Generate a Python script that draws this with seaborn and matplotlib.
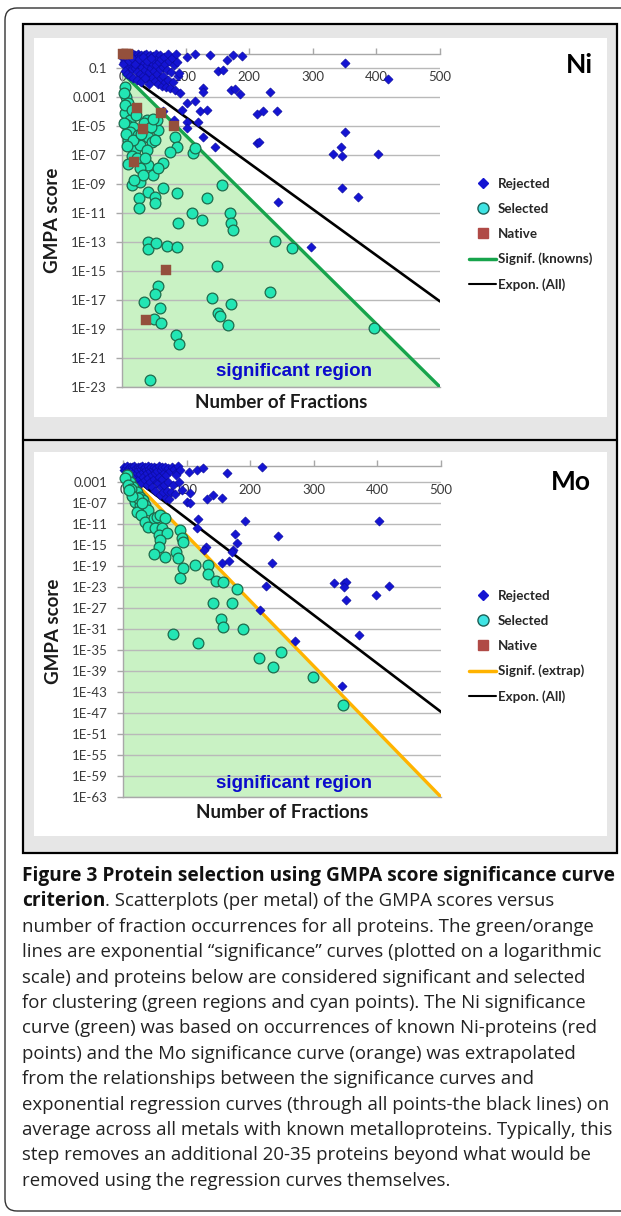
import matplotlib
matplotlib.use("Agg")
import matplotlib.pyplot as plt
import matplotlib.ticker as mticker
from matplotlib.patches import FancyBboxPatch, Rectangle
from matplotlib.lines import Line2D
import seaborn as sns

# ---------------- data ----------------
frac_ticks = [0, 100, 200, 300, 400, 500]
frac_labels = ["0", "100", "200", "300", "400", "500"]

ni_yticks = [1e-23, 1e-21, 1e-19, 1e-17, 1e-15, 1e-13, 1e-11, 1e-09, 1e-07, 1e-05, 1e-03, 1e-01]
ni_ylabels = ["1E-23", "1E-21", "1E-19", "1E-17", "1E-15", "1E-13", "1E-11", "1E-09", "1E-07", "1E-05", "0.001", "0.1"]
mo_yticks = [1e-63, 1e-59, 1e-55, 1e-51, 1e-47, 1e-43, 1e-39, 1e-35, 1e-31, 1e-27, 1e-23, 1e-19, 1e-15, 1e-11, 1e-07, 1e-03]
mo_ylabels = ["1E-63", "1E-59", "1E-55", "1E-51", "1E-47", "1E-43", "1E-39", "1E-35", "1E-31", "1E-27", "1E-23", "1E-19", "1E-15", "1E-11", "1E-07", "0.001"]

# Ni: rejected proteins (fractions, GMPA score)
ni_rej_x = [1, 2, 3, 4, 5, 6, 7, 8, 9, 10, 11, 12, 13, 14, 15, 16, 17, 18, 19, 20,
            21, 22, 23, 24, 25, 26, 27, 28, 29, 30, 31, 32, 33, 34, 35, 36, 37, 38, 39, 40,
            41, 42, 43, 44, 45, 46, 47, 48, 49, 50, 51, 52, 53, 54, 55, 56, 57, 58, 59, 60,
            61, 62, 63, 64, 65, 66, 67, 68, 69, 70, 72, 73, 74, 75, 77, 78, 80, 82, 84, 85, 88,
            2, 4, 6, 8, 11, 13, 15, 18, 21, 24, 27, 30, 33, 36, 39, 42, 45,
            86, 102, 115, 90, 138, 165, 151, 159, 175, 188, 172, 178, 186, 233, 212, 222, 243, 212, 216, 128,
            128, 115, 102, 91, 94, 123, 133, 102, 120, 128, 146, 246, 297, 351, 419, 351, 344, 331, 346, 403,
            346, 371, 65, 81, 102]
ni_rej_y = [0.9, 0.5, 0.25, 0.8, 0.4, 0.15, 0.9, 0.3, 0.6, 0.12, 0.85, 0.35, 0.2, 0.7, 0.08, 0.45, 0.95, 0.25, 0.6, 0.1,
            0.8, 0.3, 0.05, 0.5, 0.9, 0.18, 0.65, 0.04, 0.35, 0.85, 0.12, 0.5, 0.03, 0.25, 0.75, 0.07, 0.4, 0.95, 0.15, 0.02,
            0.6, 0.3, 0.05, 0.85, 0.1, 0.45, 0.02, 0.2, 0.7, 0.06, 0.35, 0.012, 0.9, 0.15, 0.04, 0.5, 0.008, 0.25, 0.08, 0.8,
            0.02, 0.4, 0.006, 0.12, 0.03, 0.6, 0.01, 0.2, 0.005, 0.07, 0.9, 0.015, 0.3, 0.004, 0.05, 0.5, 0.01, 0.15, 0.003, 0.9, 0.03,
            0.2, 0.06, 0.6, 0.04, 0.3, 0.03, 0.5, 0.02, 0.2, 0.015, 0.4, 0.01, 0.6, 0.02, 0.3, 0.008, 0.5,
            0.28, 0.6, 0.95, 0.045, 0.8, 0.35, 0.063, 0.07, 0.8, 0.63, 0.0032, 0.0034, 0.0016, 0.0023, 6.8e-5, 1.1e-4, 1.1e-4, 6.3e-7, 8.3e-7, 0.004,
            0.0023, 5e-4, 4e-4, 0.0018, 1.2e-4, 1e-4, 1.25e-4, 2e-5, 2e-5, 1.8e-6, 3.7e-7, 5.5e-11, 4.3e-14, 0.23, 0.017, 3.9e-6, 3.7e-7, 1.26e-7, 8e-8, 1.26e-7,
            5.6e-10, 1.26e-10, 1e-4, 2.5e-5, 6.9e-6]

# Ni: selected proteins
ni_sel_x = [5, 7, 13, 5, 13, 8, 17, 10, 20, 28, 39, 41, 47, 39, 41, 57, 52, 55, 83, 86,
            75, 112, 115, 65, 28, 15, 28, 49, 65, 57, 86, 41, 52, 52, 26, 26, 88, 157, 133, 110,
            125, 170, 172, 175, 41, 41, 53, 70, 86, 150, 241, 268, 56, 52, 35, 59, 51, 62, 85, 90,
            44, 141, 172, 151, 154, 167, 232, 397,
            3, 10, 4, 16, 22, 3, 12, 25, 6, 18, 8, 15, 24, 10, 33, 19, 30, 34, 45, 48, 36]
ni_sel_y = [5e-3, 1e-3, 2.1e-4, 7.6e-5, 2.6e-5, 1.2e-5, 8e-6, 1.1e-6, 2.2e-7, 5e-7,
            2.6e-5, 1.8e-6, 8.3e-7, 2.2e-7, 2e-8, 5.2e-6, 1.1e-6, 2.6e-5, 1.8e-6, 3.7e-7,
            1.7e-7, 1.3e-7, 3e-7, 2.7e-8, 1.2e-8, 8.5e-10, 1.4e-9, 4.2e-9, 5e-10, 1.2e-8,
            2.3e-10, 3e-10, 1.35e-10, 4.7e-11, 1e-10, 2.1e-11, 2.2e-12, 8.5e-10, 1e-10, 9.5e-12,
            3.3e-12, 9.5e-12, 1.9e-12, 6.8e-13, 1.05e-13, 3.2e-14, 8e-14, 5.2e-14, 4.3e-14, 2.2e-15,
            1.2e-13, 3.6e-14, 9.3e-17, 2.5e-17, 6.9e-18, 2.7e-18, 4.9e-19, 2.5e-19, 3.9e-20, 9.3e-21,
            3e-23, 1.45e-17, 5e-18, 1.2e-18, 8e-19, 1.9e-19, 3.4e-17, 1.1e-19,
            2e-3, 4e-4, 3e-4, 1.2e-4, 6e-5, 1.5e-5, 4e-6, 2.5e-6, 3e-6, 1e-6,
            4e-7, 9e-8, 6e-8, 2.5e-8, 4e-9, 2e-9, 3e-6, 1.5e-5, 8e-6, 3e-5, 6e-8]

# Ni: native (known) Ni-proteins
ni_nat_x = [2, 6, 10, 24, 61, 82, 33, 19, 69, 37]
ni_nat_y = [1.0, 1.0, 1.0, 1.8e-4, 8.3e-5, 1e-5, 5.9e-6, 3.5e-8, 1.2e-15, 4.3e-19]

# Ni curves
ni_sig_x = [0, 500]
ni_sig_y = [0.05, 1e-23]
ni_exp_x = [0, 500]
ni_exp_y = [0.063, 8e-18]

# Mo: rejected proteins
mo_rej_x = [1, 2, 3, 4, 5, 6, 7, 8, 9, 10, 11, 12, 13, 14, 15, 16, 17, 18, 19, 20,
            21, 22, 23, 24, 25, 26, 27, 28, 29, 30, 31, 32, 33, 34, 35, 36, 37, 38, 39, 40,
            41, 42, 43, 44, 45, 46, 47, 48, 49, 50, 51, 52, 53, 54, 55, 56, 57, 58, 59, 60,
            61, 62, 63, 64, 65, 66, 67, 68, 69, 70, 71, 72, 74, 75, 77, 78, 80, 82, 84, 86, 88, 90,
            103, 116, 125, 83, 163, 219, 92, 105, 100, 105, 132, 142, 155, 118, 116, 192, 176, 173, 180, 171,
            244, 131, 127, 155, 167, 235, 225, 215, 270, 403, 332, 347, 351, 348, 419, 398, 351, 371, 345]
mo_rej_y = [0.8, 0.2, 0.15, 0.5, 0.06, 0.9, 0.1, 0.03, 0.4, 0.03, 0.7, 0.008, 0.15, 0.6, 0.008, 0.3, 0.9, 0.02, 0.1, 0.5,
            0.001, 0.05, 0.8, 0.2, 0.004, 0.6, 0.03, 0.3, 6e-4, 0.9, 0.08, 0.01, 0.4, 0.002, 0.7, 0.15, 3e-4, 0.05, 0.9, 0.006,
            0.3, 8e-4, 0.1, 0.6, 0.02, 1e-4, 0.3, 0.003, 0.8, 0.04, 2e-5, 0.5, 0.001, 0.1, 5e-4, 0.9, 0.01, 3e-6, 0.2, 1e-4,
            0.6, 0.003, 1e-5, 0.05, 3e-4, 0.8, 1e-6, 0.02, 2e-5, 0.4, 1e-3, 5e-7, 0.1, 1e-5, 0.8, 2e-4, 0.3, 5e-6, 0.05, 0.9, 1e-3, 0.2,
            0.083, 0.17, 0.36, 0.019, 0.04, 0.74, 2.7e-5, 6.3e-6, 1.6e-7, 8e-8, 4.6e-7, 3e-6, 6.9e-7, 6.9e-11, 1.35e-12, 3.3e-11, 1e-13, 1.26e-16, 2e-15, 5e-17,
            4.7e-14, 4.3e-16, 1e-16, 3.2e-19, 1e-18, 4e-19, 1.4e-23, 4e-28, 5e-34, 4e-11, 6.3e-23, 4.5e-23, 1e-22, 8e-24, 1.6e-23, 2.5e-25, 3.2e-26, 6.3e-33, 1.26e-42]

# Mo: selected proteins
mo_sel_x = [6, 11, 16, 21.5, 27, 32, 19, 27, 35, 40, 21.5, 29, 35, 48, 53, 58, 66, 40, 50, 61,
            56, 69, 58, 90, 92, 95, 56, 48, 66, 84, 87, 95, 90, 113, 134, 133, 147, 157, 180, 142,
            172, 154, 158, 188, 79, 118, 214, 236, 248, 298, 346, 3, 8, 13, 24, 14, 30, 10]
mo_sel_y = [0.019, 1e-3, 1.15e-4, 1.3e-5, 1.45e-6, 3.3e-7, 1.6e-7, 3.7e-8, 3.7e-8, 4.2e-9,
            2e-9, 4.7e-10, 2.5e-11, 1.07e-10, 2.2e-10, 4.7e-10, 1.07e-10, 2.8e-12, 1.35e-12, 1.35e-12,
            7.2e-14, 1.5e-13, 8e-15, 6.3e-13, 1.66e-14, 3.9e-15, 4.3e-16, 1.7e-17, 4e-18, 5e-17,
            2.5e-18, 3.2e-20, 4e-22, 1.4e-19, 1.4e-19, 2.5e-21, 1.26e-22, 8e-23, 3.2e-24, 1e-26,
            1e-26, 8e-30, 2.5e-31, 8e-32, 1e-32, 2e-34, 2.5e-37, 5e-39, 3.2e-36, 6.3e-41,
            3.2e-46, 5e-3, 2e-4, 5e-5, 1e-6, 2e-6, 1e-7, 3e-5]

# Mo: no native proteins plotted
mo_nat_x = []
mo_nat_y = []

# Mo curves
mo_sig_x = [0, 500]
mo_sig_y = [0.17, 1e-63]
mo_exp_x = [0, 500]
mo_exp_y = [0.17, 1.6e-47]

legend_ni = ["Rejected", "Selected", "Native", "Signif. (knowns)", "Expon. (All)"]
legend_mo = ["Rejected", "Selected", "Native", "Signif. (extrap)", "Expon. (All)"]

caption_lines = [
    "Figure 3 Protein selection using GMPA score significance curve",
    ". Scatterplots (per metal) of the GMPA scores versus",
    "number of fraction occurrences for all proteins. The green/orange",
    "lines are exponential \u201csignificance\u201d curves (plotted on a logarithmic",
    "scale) and proteins below are considered significant and selected",
    "for clustering (green regions and cyan points). The Ni significance",
    "curve (green) was based on occurrences of known Ni-proteins (red",
    "points) and the Mo significance curve (orange) was extrapolated",
    "from the relationships between the significance curves and",
    "exponential regression curves (through all points-the black lines) on",
    "average across all metals with known metalloproteins. Typically, this",
    "step removes an additional 20-35 proteins beyond what would be",
    "removed using the regression curves themselves.",
]

# ---------------- styling ----------------
BLUE = "#1414d2"
BLUE_EDGE = "#0a0a9a"
CYAN = "#22e6b4"
CYAN_EDGE = "#1d6b4c"
BROWN = "#94503c"
GREEN = "#17a44c"
ORANGE = "#ffb300"
FILL = "#c9f2c4"
TICKC = "#3a3a3a"
AXC = "#a8a8a8"

sns.set_theme(style="white")
plt.rcParams["font.family"] = ["Lato", "DejaVu Sans"]

W, H = 621, 1216
fig = plt.figure(figsize=(W / 100, H / 100), dpi=100)


def fx(px):
    return px / W


def fy(py):
    return 1 - py / H


def inch_rect(x0, y0, x1, y1, **kw):
    return Rectangle((x0 / 100, (H - y1) / 100), (x1 - x0) / 100, (y1 - y0) / 100,
                     transform=fig.dpi_scale_trans, **kw)


# frames
outer = FancyBboxPatch((5 / 100, (H - 1211) / 100), 660 / 100, (1211 - 8) / 100,
                       boxstyle="round,pad=0,rounding_size=0.12",
                       transform=fig.dpi_scale_trans, fill=False, ec="#333333", lw=1.0, zorder=-10)
fig.add_artist(outer)
fig.add_artist(inch_rect(23, 24, 617, 853, fc="#e6e6e6", ec="black", lw=1.6, zorder=-9))
fig.add_artist(Line2D([23 / 100, 617 / 100], [(H - 440) / 100] * 2, transform=fig.dpi_scale_trans,
                      color="black", lw=1.6, zorder=-8))
fig.add_artist(inch_rect(34, 38, 607, 417, fc="white", ec="none", zorder=-8))
fig.add_artist(inch_rect(34, 452, 607, 836, fc="white", ec="none", zorder=-8))


def panel(ax_box, rej_x, rej_y, sel_x, sel_y, nat_x, nat_y, sig_x, sig_y, sig_color,
          exp_x, exp_y, yticks, ylabels, ymin, legend_labels, legend_top, metal, metal_xy,
          region_y):
    ax = fig.add_axes(ax_box)
    ax.set_yscale("log")
    ax.set_xlim(0, 500)
    ax.set_ylim(ymin, 1)

    ax.fill_between(sig_x, sig_y, ymin, color=FILL, lw=0, zorder=0.2)
    sns.lineplot(x=exp_x, y=exp_y, color="black", lw=1.9, ax=ax, zorder=2.6)
    sns.lineplot(x=sig_x, y=sig_y, color=sig_color, lw=2.4, ax=ax, zorder=2.7)

    sns.scatterplot(x=rej_x, y=rej_y, marker="D", s=22, color=BLUE, edgecolor=BLUE_EDGE,
                    linewidth=0.4, ax=ax, zorder=3, clip_on=False)
    sns.scatterplot(x=sel_x, y=sel_y, marker="o", s=60, color=CYAN, edgecolor=CYAN_EDGE,
                    linewidth=0.9, ax=ax, zorder=3.2, clip_on=False)
    if len(nat_x):
        sns.scatterplot(x=nat_x, y=nat_y, marker="s", s=44, color=BROWN, edgecolor=BROWN,
                        linewidth=0.3, ax=ax, zorder=3.4, clip_on=False)

    ax.set_ylim(ymin, 1)
    ax.set_xlim(0, 500)
    ax.set_yticks(yticks)
    ax.set_yticklabels(ylabels)
    ax.yaxis.set_minor_locator(mticker.NullLocator())
    ax.set_xticks(frac_ticks)
    ax.set_xticklabels(frac_labels)
    ax.xaxis.tick_top()
    ax.tick_params(axis="x", top=True, bottom=False, labeltop=True, labelbottom=False,
                   direction="out", length=4, width=1, color=AXC, pad=-25.5,
                   labelsize=9.5, labelcolor=TICKC)
    ax.tick_params(axis="y", left=True, right=False, direction="out", length=4, width=1,
                   color=AXC, pad=7, labelsize=9.5, labelcolor=TICKC)
    ax.grid(axis="y", color="#b9b9b9", lw=1)
    ax.grid(axis="x", visible=False)
    ax.set_axisbelow(True)
    for s in ["top", "left", "bottom"]:
        ax.spines[s].set_color(AXC)
        ax.spines[s].set_linewidth(1)
    ax.spines["right"].set_visible(False)

    ax.set_xlabel("Number of Fractions", fontsize=13.5, fontweight="bold", labelpad=5, color="#1a1a1a")
    ax.xaxis.set_label_position("bottom")
    ax.set_ylabel("GMPA score", fontsize=13.5, fontweight="bold", labelpad=7, color="#1a1a1a")

    handles = [
        Line2D([0], [0], marker="D", ls="none", color=BLUE, markersize=5),
        Line2D([0], [0], marker="o", ls="none", markerfacecolor="#3fe4e4",
               markeredgecolor="#1d5f55", markeredgewidth=1, markersize=8),
        Line2D([0], [0], marker="s", ls="none", color="#b04a46", markersize=7),
        Line2D([0], [0], color=sig_color, lw=2.5),
        Line2D([0], [0], color="black", lw=1.5),
    ]
    ax.legend(handles, legend_labels, loc="upper left", bbox_to_anchor=(fx(469), fy(legend_top)),
              bbox_transform=fig.transFigure, frameon=False, borderpad=0, borderaxespad=0,
              handlelength=2.05, handletextpad=0.1, labelspacing=0.97,
              prop={"family": "Lato", "weight": "bold", "size": 9.6})

    fig.text(fx(metal_xy[0]), fy(metal_xy[1]), metal, ha="center", va="center",
             fontsize=19, fontweight="bold", color="black")
    fig.text(fx(294), fy(region_y), "significant region", ha="center", va="center",
             family="Liberation Sans", fontweight="bold", fontsize=13.5, color="#0b0bcc")
    return ax


panel([fx(122), fy(387), fx(440) - fx(122), (387 - 53.5) / H],
      ni_rej_x, ni_rej_y, ni_sel_x, ni_sel_y, ni_nat_x, ni_nat_y,
      ni_sig_x, ni_sig_y, GREEN, ni_exp_x, ni_exp_y, ni_yticks, ni_ylabels, 1e-23,
      legend_ni, 178, "Ni", (579, 65), 371)

panel([fx(123), fy(797), fx(441) - fx(123), (797 - 466) / H],
      mo_rej_x, mo_rej_y, mo_sel_x, mo_sel_y, mo_nat_x, mo_nat_y,
      mo_sig_x, mo_sig_y, ORANGE, mo_exp_x, mo_exp_y, mo_yticks, mo_ylabels, 1e-63,
      legend_mo, 590, "Mo", (571, 482), 783)

# ---------------- caption ----------------
renderer = fig.canvas.get_renderer()
CAP_FONT = ["Open Sans", "DejaVu Sans"]
probe = fig.text(0, 0, caption_lines[10], fontsize=10, family=CAP_FONT)
reg_size = 10 * 592 / probe.get_window_extent(renderer).width
probe.remove()
probe = fig.text(0, 0, caption_lines[0], fontsize=10, family=CAP_FONT, fontweight="bold")
bold_size = 10 * 592 / probe.get_window_extent(renderer).width
probe.remove()

x0 = 22
base0 = 881
step = 25.4
for i, line in enumerate(caption_lines):
    yb = fy(base0 + i * step)
    if i == 0:
        fig.text(fx(x0), yb, line, fontsize=bold_size, family=CAP_FONT, fontweight="bold",
                 va="baseline", color="#111111")
    elif i == 1:
        t1 = fig.text(fx(x0), yb, "criterion", fontsize=bold_size, family=CAP_FONT,
                      fontweight="bold", va="baseline", color="#111111")
        ext = t1.get_window_extent(renderer)
        fig.text(ext.x1 / W, yb, line, fontsize=reg_size, family=CAP_FONT,
                 va="baseline", color="#222222")
    else:
        fig.text(fx(x0), yb, line, fontsize=reg_size, family=CAP_FONT, va="baseline",
                 color="#222222")

fig.savefig("out.png", dpi=100)
